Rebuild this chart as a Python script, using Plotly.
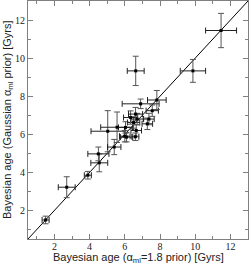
import plotly.graph_objects as go

# data: (x, y) with symmetric errors
x_age = [1.5, 2.7, 3.9, 4.55, 4.5, 5.03, 5.56, 5.4, 6.0, 6.1, 6.6, 6.04, 6.5, 6.33,
         6.7, 6.61, 7.28, 7.37, 7.56, 6.9, 7.82, 6.62, 9.87, 11.47, 6.65]
y_age = [1.5, 3.22, 3.85, 4.5, 4.97, 6.16, 6.37, 5.33, 5.9, 5.85, 5.87, 6.36, 6.62, 6.88,
         6.8, 7.06, 6.55, 6.8, 7.24, 7.6, 7.8, 9.33, 9.33, 11.45, 6.2]
x_err = [0.2, 0.48, 0.2, 0.48, 0.6, 0.95, 0.93, 0.38, 0.3, 0.35, 0.2, 0.4, 0.35, 0.4,
         0.35, 0.4, 0.3, 0.3, 0.35, 1.05, 0.53, 0.48, 0.72, 0.88, 0.3]
y_err = [0.2, 0.55, 0.2, 0.47, 0.36, 1.08, 0.8, 0.4, 0.3, 0.25, 0.2, 0.3, 0.3, 0.35,
         0.3, 0.35, 0.3, 0.3, 0.3, 0.25, 0.5, 0.77, 0.6, 0.9, 0.3]
line_x = [0.5, 13]
line_y = [0.5, 13]
x_title = "Bayesian age (α<sub>ml</sub>=1.8 prior) [Gyrs]"
y_title = "Bayesian age (Gaussian α<sub>ml</sub> prior) [Gyrs]"

fig = go.Figure()
fig.add_trace(go.Scatter(x=line_x, y=line_y, mode="lines",
                         line=dict(color="black", width=1), showlegend=False))
fig.add_trace(go.Scatter(
    x=x_age, y=y_age, mode="markers",
    marker=dict(symbol="square", size=3, color="black"),
    error_x=dict(type="data", array=x_err, color="#222222", thickness=1, width=3),
    error_y=dict(type="data", array=y_err, color="#555555", thickness=1, width=3),
    showlegend=False))

axis_common = dict(
    range=[0.5, 13], dtick=2, tick0=0, ticks="inside", ticklen=5, tickwidth=1,
    tickcolor="#808080", showline=True, linecolor="#808080", linewidth=1,
    mirror="ticks", showgrid=False, zeroline=False,
    tickfont=dict(family="Liberation Serif", size=10, color="#222222"),
    minor=dict(dtick=1, tick0=0, ticks="inside", ticklen=3, tickcolor="#808080"),
    automargin=False,
)
fig.update_xaxes(**axis_common, ticklabelstandoff=-2)
fig.update_yaxes(**axis_common)
title_font = dict(family="Liberation Sans", size=11, color="#222222")
fig.add_annotation(text=x_title, xref="paper", yref="paper", x=0.5, y=0,
                   xanchor="center", yanchor="top", yshift=-11, borderpad=0,
                   showarrow=False, font=title_font)
fig.add_annotation(text=y_title, xref="paper", yref="paper", x=0, y=0.5,
                   xanchor="center", yanchor="middle", xshift=-20, textangle=-90,
                   borderpad=0, showarrow=False, font=title_font)
fig.update_layout(width=249, height=265,
                  margin=dict(l=28, r=1, t=1, b=26),
                  plot_bgcolor="white", paper_bgcolor="white")
fig.write_html("out.html", config={"displayModeBar": False},
               post_script="document.body.style.margin='0';document.body.style.overflow='hidden';")
